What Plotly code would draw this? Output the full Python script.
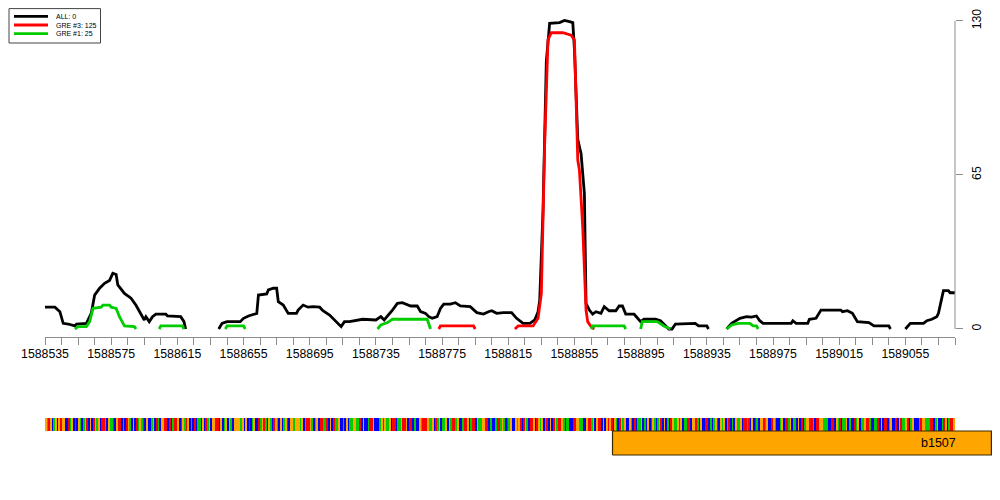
import plotly.graph_objects as go

# ---------------- data ----------------
WINDOW_START = 1588535
WINDOW_END = 1589085
X_TICK_STEP = 40
X_MINOR_STEP = 10
Y_TICKS = [0, 65, 130]

# positions are offsets (bp) from WINDOW_START; None marks a gap (no coverage)
ALL_POS = [0, 6, 9, 11, 14, 18, 19, 25, 28, 30, 33, 36, 39, 41, 43, 44, 48, 52, 55, 58,
           60, 61, 63, 65, 67, 73, 74, 82, 84, 85, None,
           105, 107, 110, 118, 120, 123, 128, 129, 134, 135, 138, 140, 141, 144, 147, 152,
           153, 156, 159, 162, 166, 168, 172, 176, 179, 181, 184, 192, 200, 203, 205, 210,
           213, 216, 221, 225, 227, 230, 232, 234, 237, 239, 241, 245, 248, 251, 257, 261,
           265, 268, 270, 273, 277, 282, 285, 289, 293, 296, 298, 299, 301, 303, 305, 311,
           314, 317, 319, 320, 321, 322, 324, 326, 327, 329, 331, 333, 336, 338, 341, 345,
           347, 349, 351, 356, 357, 360, 362, 369, 372, 377, 379, 381, 393, 395, 400, 401, None,
           412, 415, 420, 424, 427, 430, 432, 434, 451, 452, 454, 461, 462, 466, 469, 481,
           482, 485, 488, 491, 498, 501, 510, 511, None,
           520, 523, 531, 533, 536, 539, 540, 542, 543, 546, 547, 550]
ALL_VAL = [9.2, 9.2, 7.3, 2.4, 2.1, 1.3, 2.1, 2.4, 6.7, 14.3, 17.2, 19.3, 20.5, 23.5, 23, 18.6, 15, 13, 10, 5.9,
           3.8, 5.2, 3.1, 5.2, 6.3, 6.3, 5.5, 5.2, 3.1, 0, None,
           0, 2.4, 3.1, 3.1, 4.5, 5.5, 6.6, 14.3, 14.8, 16.5, 17.2, 17.2, 11.5, 10.1, 6.6, 6.6,
           8, 10.1, 9.2, 9.4, 9.2, 7.7, 5.9, 3, 1, 3.1, 3.1, 4.1, 3.8, 5.2, 3.8, 8,
           10.8, 11.1, 9.7, 9.7, 7.3, 6.6, 5.2, 4.5, 5.2, 8.7, 10.5, 10.5, 11.1, 9.7, 9.4, 6.9,
           6.3, 7.3, 7.7, 6.6, 6.9, 6.9, 4.5, 2.4, 2.4, 3.8, 7.3, 12.2, 50, 113, 129, 129.3,
           130.2, 129.7, 129.3, 118, 100, 80, 74, 57.2, 10.8, 8, 6.3, 7.3, 6.6, 9.4, 7.7, 7.7,
           9.7, 9.7, 6.3, 6.3, 5.5, 3.1, 4.1, 4.1, 3.5, 0, 0, 2.1, 2.4, 1.3, 1.3, 0, None,
           0, 2.4, 4.5, 5.2, 5, 5.5, 3.5, 2.4, 2.4, 3.5, 2.4, 2.4, 4.1, 4.5, 8, 8,
           7.3, 7.7, 6.6, 3.1, 2.7, 1.3, 1.3, 0, None,
           0, 2.4, 2.4, 3.5, 4.1, 5.2, 6.6, 12.2, 16.2, 16.2, 15.3, 15.3]

GRE3_POS = [238, 239, 259, 260, None,
            284, 286, 295, 298, 300, 302, 304, 306, 313, 315, 318, 320, 321, 322, 323, 325,
            327, 328, 330, 332]
GRE3_VAL = [0, 1.3, 1.3, 0, None,
            0, 1.3, 1.3, 4.5, 15, 78, 122, 125, 125, 124.5, 124, 122, 92, 71.3, 67, 43,
            8, 3.1, 1, 0]

GRE1_POS = [18, 20, 25, 27, 29, 34, 35, 39, 40, 43, 45, 48, 54, 55, None,
            69, 70, 83, 84, None,
            109, 110, 120, 121, None,
            201, 203, 207, 210, 231, 233, None,
            330, 331, 350, 351, None,
            360, 361, 370, 374, 378, None,
            412, 415, 419, 426, 428, 430, 431]
GRE1_VAL = [0, 1, 1, 3.1, 8.7, 9.2, 10.1, 10.1, 9.2, 8.7, 5.2, 1.3, 1, 0, None,
            0, 1.3, 1.3, 0, None,
            0, 1.3, 1.3, 0, None,
            0, 1.7, 2.7, 4.1, 4.1, 0, None,
            0, 1.3, 1.3, 0, None,
            0, 3.1, 3.1, 1.3, 0, None,
            0, 1.7, 2.4, 2.4, 1.3, 1.3, 0]

SERIES_NAMES = ["ALL: 0", "GRE #3: 125", "GRE #1: 25"]
SERIES_COLORS = ["#000000", "#ff0000", "#00cc00"]

# genomic sequence of the window (approximate read of the colour strip)
SEQ_CHUNKS = [
    "GATGCAGCGTGGCCTAGCTCGACAGTCGCTGAGCTTACGAATCGTTCACTGACGCTAGATCGCCAGCTACGGTTCTCATTGCTGATGCACTCAACGCTAGCGGTTCGCAGCGACGGGGAGCGCTCAGCCTAGTACGAC",
    "TGACGCAGTCGGAGGGAGCATTGACAGCTTAATCGCTAAGCCACGCAAGGAATCGCCATTGCCCAGTGAAGCTTCAAGTTGCTTCACCGATTTGAAGCTAGCAAGCGATTAGCCATTGCATTCGAAGGTTCACCATTA",
    "GACTAGCCGAGTCTGACTTGCTGAGCATCGCTGATTGACAACCTTGGAACCGTTAGCGTTCGCGTGTCGACTGAGCCGACTCAAGCACGCTGACAGTCGCACTGAAGTGCAATTCGGTACGCCTTCACAGTCGA",
    "GCATCACGAAGCTTATCGCTACGGTAGCCTGACCAGCTTAGCAACGCTCAGGTTACTTGGAAACCTTCGATCAAGCACCTAGCAAGTTACCAATCGCTTCAGCCTCGTAAGTCAGCCCATGGAAATTCAGCCATGCA",
    "TTGACGCAAGTCG",
]
BASE_CODES = {"A": 0, "C": 1, "G": 2, "T": 3}
BASE_COLORS = ["#00cc00", "#0000ff", "#ffa500", "#ff0000"]

GENE_NAME = "b1507"
GENE_START = 1588878
GENE_END = 1589107
GENE_LABEL_POS = 1589075

# ---------------- layout geometry ----------------
# the page body has an 8px margin, so the figure is placed at (8, 8) in the window
BODY = 8
W, H = 1000 - 2 * BODY, 500 - 2 * BODY


def px(sx):  # window x pixel -> figure paper fraction
    return (sx - BODY) / W


def py(sy):  # window y pixel -> figure paper fraction
    return 1 - (sy - BODY) / H


PX_PER_BP = 910 / (WINDOW_END - WINDOW_START)
MAIN_X_DOM = [px(45), px(955)]
MAIN_Y_RANGE = [-3.38, 132.5]
MAIN_Y_DOM = [py(337), py(15)]
LOW_X_DOM = [px(45), 1.0]
LOW_X_RANGE = [WINDOW_START, WINDOW_START + (W + BODY - 45) / PX_PER_BP]
LOW_Y_DOM = [py(456), py(417)]
LOW_Y_RANGE = [0, 39]
STRIP_Y = [25, 38]
GENE_Y = [1, 25]

FONT = "Liberation Sans, Arial, Helvetica, sans-serif"
AXIS_GREY = "#8c8c8c"
LINE_W = 2.8


def absx(pos_list):
    return [None if p is None else WINDOW_START + p for p in pos_list]


def y_to_paper(v):
    r0, r1 = MAIN_Y_RANGE
    d0, d1 = MAIN_Y_DOM
    return d0 + (v - r0) / (r1 - r0) * (d1 - d0)


fig = go.Figure()

for pos, val, name, col in [(ALL_POS, ALL_VAL, SERIES_NAMES[0], SERIES_COLORS[0]),
                            (GRE3_POS, GRE3_VAL, SERIES_NAMES[1], SERIES_COLORS[1]),
                            (GRE1_POS, GRE1_VAL, SERIES_NAMES[2], SERIES_COLORS[2])]:
    assert len(pos) == len(val)
    fig.add_trace(go.Scatter(x=absx(pos), y=val, mode="lines", name=name,
                             line=dict(color=col, width=LINE_W), connectgaps=False,
                             showlegend=False, hoverinfo="skip", xaxis="x", yaxis="y"))

# sequence strip
seq = "".join(SEQ_CHUNKS)[: WINDOW_END - WINDOW_START]
codes = [BASE_CODES[b] for b in seq]
edges_x = [WINDOW_START + i for i in range(len(codes) + 1)]
cscale = []
for i, c in enumerate(BASE_COLORS):
    cscale.append([i / 4, c])
    cscale.append([(i + 1) / 4, c])
fig.add_trace(go.Heatmap(x=edges_x, y=STRIP_Y, z=[codes], zmin=-0.5, zmax=3.5,
                         colorscale=cscale, showscale=False, hoverinfo="skip",
                         xaxis="x2", yaxis="y2"))

# gene box
fig.add_trace(go.Scatter(x=[GENE_START, GENE_END, GENE_END, GENE_START, GENE_START],
                         y=[GENE_Y[0], GENE_Y[0], GENE_Y[1], GENE_Y[1], GENE_Y[0]],
                         mode="lines", fill="toself", fillcolor="#ffa500",
                         line=dict(color="#3a2a00", width=1.2), showlegend=False,
                         hoverinfo="skip", xaxis="x2", yaxis="y2"))
fig.add_annotation(x=GENE_LABEL_POS, y=(GENE_Y[0] + GENE_Y[1]) / 2, xref="x2", yref="y2",
                   text=GENE_NAME, showarrow=False,
                   font=dict(family=FONT, size=12.5, color="#000000"))

# right-hand y axis line spanning only 0..130
fig.add_shape(type="line", xref="paper", yref="paper",
              x0=MAIN_X_DOM[1], x1=MAIN_X_DOM[1],
              y0=y_to_paper(Y_TICKS[0]), y1=y_to_paper(Y_TICKS[-1]),
              line=dict(color=AXIS_GREY, width=1))

# compact legend drawn by hand (R style)
LEG_BOX = dict(x0=px(9), x1=px(100.5), y0=py(43), y1=py(8.6))
fig.add_shape(type="rect", xref="paper", yref="paper", **LEG_BOX,
              line=dict(color="#444444", width=1), fillcolor="white", layer="above")
for i, (name, col) in enumerate(zip(SERIES_NAMES, SERIES_COLORS)):
    row_y = py(16.3 + 8.7 * i)
    fig.add_shape(type="line", xref="paper", yref="paper", x0=px(14), x1=px(48),
                  y0=row_y, y1=row_y, line=dict(color=col, width=LINE_W), layer="above")
    fig.add_annotation(xref="paper", yref="paper", x=px(53.5), y=row_y, text=name,
                       showarrow=False, xanchor="left", yanchor="middle",
                       font=dict(family=FONT, size=7, color="black"))

fig.update_layout(
    width=W, height=H,
    margin=dict(l=0, r=0, t=0, b=0, pad=0, autoexpand=False),
    paper_bgcolor="white", plot_bgcolor="white",
    font=dict(family=FONT, size=12.3, color="black"),
    showlegend=False,
    xaxis=dict(domain=MAIN_X_DOM, range=[WINDOW_START, WINDOW_END], anchor="y",
               showgrid=False, zeroline=False, showline=True, linecolor=AXIS_GREY, linewidth=1,
               ticks="outside", ticklen=7, tickcolor=AXIS_GREY, tickwidth=1,
               tick0=WINDOW_START, dtick=X_TICK_STEP, tickformat="d",
               ticklabelstandoff=-2,
               tickfont=dict(family=FONT, size=12.3, color="black"),
               minor=dict(dtick=X_MINOR_STEP, tick0=WINDOW_START, ticks="outside",
                          ticklen=7, tickcolor=AXIS_GREY, tickwidth=1, showgrid=False)),
    yaxis=dict(domain=MAIN_Y_DOM, range=MAIN_Y_RANGE, anchor="x", side="right",
               showgrid=False, zeroline=False, showline=False,
               ticks="outside", ticklen=7, tickcolor=AXIS_GREY, tickwidth=1,
               tickvals=Y_TICKS, ticktext=[str(t) for t in Y_TICKS], tickangle=-90,
               ticklabelstandoff=3,
               tickfont=dict(family=FONT, size=12.3, color="black")),
    xaxis2=dict(domain=LOW_X_DOM, range=LOW_X_RANGE, anchor="y2", visible=False),
    yaxis2=dict(domain=LOW_Y_DOM, range=LOW_Y_RANGE, anchor="x2", visible=False),
)

fig.write_html("out.html")
